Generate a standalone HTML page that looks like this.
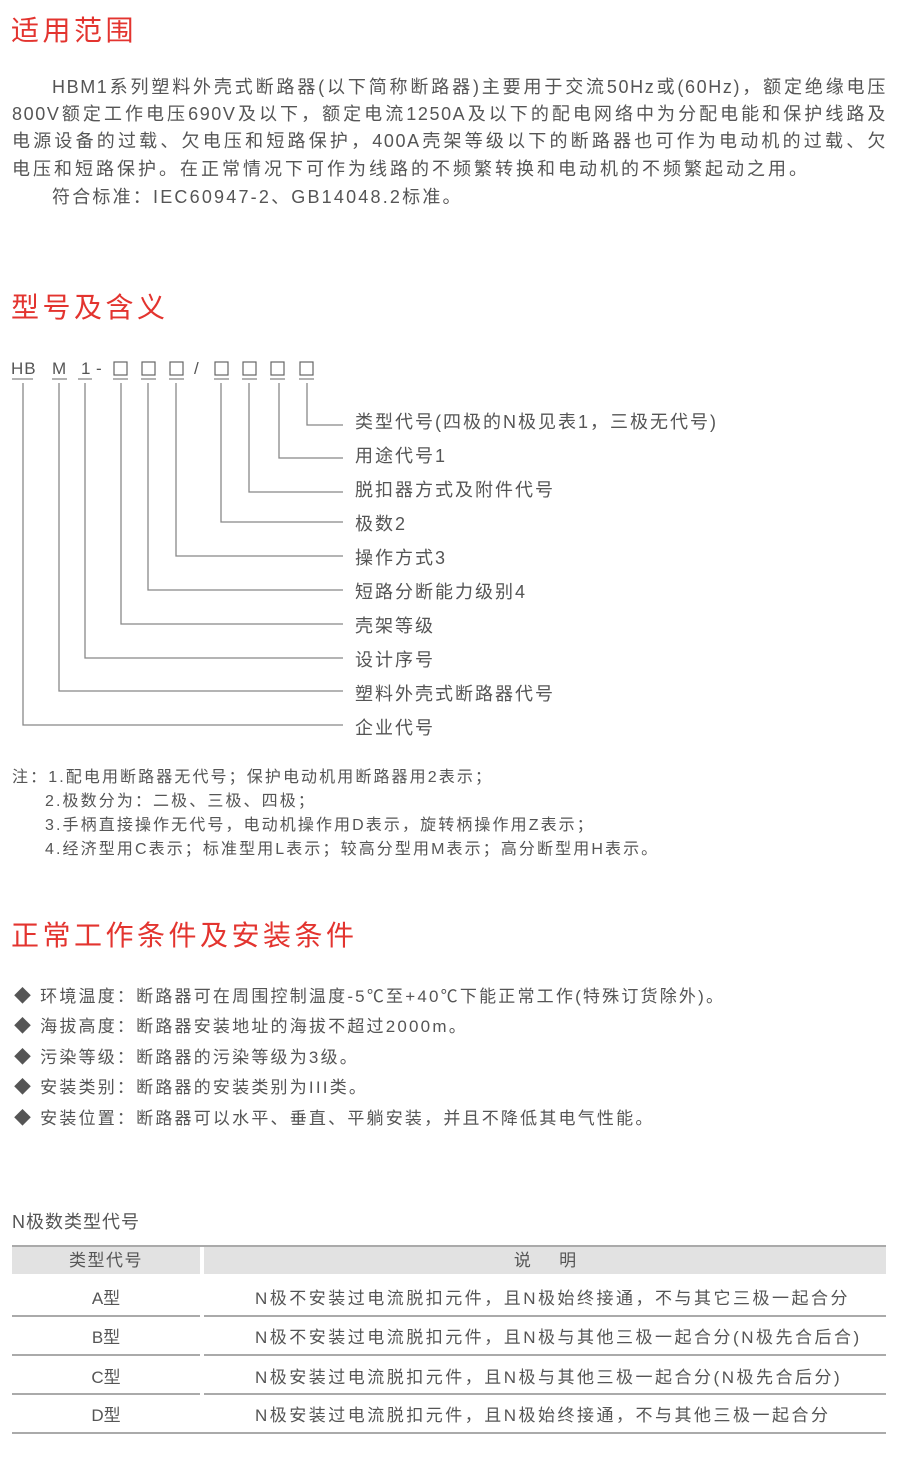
<!DOCTYPE html>
<html><head><meta charset="utf-8"><style>
body{margin:0;width:897px;height:1457px;background:#fff;position:relative;font-family:"Liberation Sans","Noto Sans CJK SC",sans-serif;color:#555;overflow:hidden}
.a{position:absolute;white-space:nowrap}
h2{position:absolute;margin:0;color:#e3342f;font-weight:normal;font-size:28px;left:11px;line-height:1;letter-spacing:3.5px;font-family:"Noto Sans CJK SC",sans-serif}
.p{position:absolute;left:12px;width:875px;font-size:18px;line-height:27px;text-align:justify;text-align-last:justify;letter-spacing:2.6px;white-space:nowrap}
.l{position:absolute;background:#888}
.lab{position:absolute;left:355px;font-size:18px;line-height:20px;white-space:nowrap;letter-spacing:2px}
.n{position:absolute;font-size:16px;line-height:20px;white-space:nowrap;letter-spacing:2.1px}
.b{position:absolute;left:14px;font-size:17px;line-height:20px;white-space:nowrap;letter-spacing:2.2px}
.c{position:absolute;font-size:17px;line-height:20px;white-space:nowrap;text-align:center}
.t{position:absolute;font-size:17px;line-height:20px;white-space:nowrap;letter-spacing:2.5px}
</style></head><body>
<h2 style="top:15px">适用范围</h2>
<div class="p" style="top:74px;left:52px;width:835px;letter-spacing:1.6px">HBM1系列塑料外壳式断路器(以下简称断路器)主要用于交流50Hz或(60Hz)，额定绝缘电压</div>
<div class="p" style="top:101px;letter-spacing:1.6px">800V额定工作电压690V及以下，额定电流1250A及以下的配电网络中为分配电能和保护线路及</div>
<div class="p" style="top:128px;letter-spacing:1.6px">电源设备的过载、欠电压和短路保护，400A壳架等级以下的断路器也可作为电动机的过载、欠</div>
<div class="p" style="top:156px;text-align-last:left;letter-spacing:3px">电压和短路保护。在正常情况下可作为线路的不频繁转换和电动机的不频繁起动之用。</div>
<div class="p" style="top:184px;text-align-last:left;left:52px;letter-spacing:2.2px">符合标准：IEC60947-2、GB14048.2标准。</div>

<h2 style="top:292px">型号及含义</h2>
<div class="a" style="left:11px;top:359px;font-size:17px;line-height:20px;letter-spacing:1px">HB</div>
<div class="a" style="left:52px;top:359px;font-size:17px;line-height:20px">M</div>
<div class="a" style="left:81px;top:359px;font-size:17px;line-height:20px">1</div>
<div class="a" style="left:96px;top:359px;font-size:17px;line-height:20px">-</div>
<div class="a" style="left:194px;top:359px;font-size:17px;line-height:20px">/</div>
<svg class="a" style="left:0;top:0" width="897" height="760">
<g fill="none" stroke="#666" stroke-width="1.2">
<rect x="114" y="362" width="13" height="13"/><rect x="142" y="362" width="13" height="13"/><rect x="170" y="362" width="13" height="13"/>
<rect x="215" y="362" width="13" height="13"/><rect x="243" y="362" width="13" height="13"/><rect x="271" y="362" width="13" height="13"/><rect x="300" y="362" width="13" height="13"/>
</g>
<g stroke="#888" stroke-width="1.3" fill="none">
<line x1="12" y1="379" x2="33" y2="379"/><line x1="52" y1="379" x2="67" y2="379"/><line x1="78" y1="379" x2="92" y2="379"/>
<line x1="113" y1="379" x2="128" y2="379"/><line x1="141" y1="379" x2="156" y2="379"/><line x1="169" y1="379" x2="184" y2="379"/>
<line x1="214" y1="379" x2="229" y2="379"/><line x1="242" y1="379" x2="257" y2="379"/><line x1="270" y1="379" x2="285" y2="379"/><line x1="299" y1="379" x2="314" y2="379"/>
<polyline points="307,383 307,425 343,425"/>
<polyline points="279,383 279,458 343,458"/>
<polyline points="249,383 249,492 343,492"/>
<polyline points="221,383 221,522 343,522"/>
<polyline points="176,383 176,556 343,556"/>
<polyline points="148,383 148,590 343,590"/>
<polyline points="121,383 121,624 343,624"/>
<polyline points="85,383 85,658 343,658"/>
<polyline points="59,383 59,691 343,691"/>
<polyline points="23,383 23,725 343,725"/>
</g></svg>
<div class="lab" style="top:412px">类型代号(四极的N极见表1，三极无代号)</div>
<div class="lab" style="top:446px">用途代号1</div>
<div class="lab" style="top:480px">脱扣器方式及附件代号</div>
<div class="lab" style="top:514px">极数2</div>
<div class="lab" style="top:548px">操作方式3</div>
<div class="lab" style="top:582px">短路分断能力级别4</div>
<div class="lab" style="top:616px">壳架等级</div>
<div class="lab" style="top:650px">设计序号</div>
<div class="lab" style="top:684px">塑料外壳式断路器代号</div>
<div class="lab" style="top:718px">企业代号</div>

<div class="n" style="left:12px;top:768px">注：1.配电用断路器无代号；保护电动机用断路器用2表示；</div>
<div class="n" style="left:45px;top:792px">2.极数分为：二极、三极、四极；</div>
<div class="n" style="left:45px;top:816px">3.手柄直接操作无代号，电动机操作用D表示，旋转柄操作用Z表示；</div>
<div class="n" style="left:45px;top:840px">4.经济型用C表示；标准型用L表示；较高分型用M表示；高分断型用H表示。</div>

<h2 style="top:920px">正常工作条件及安装条件</h2>
<div class="b" style="top:987px">◆ 环境温度：断路器可在周围控制温度-5℃至+40℃下能正常工作(特殊订货除外)。</div>
<div class="b" style="top:1017px">◆ 海拔高度：断路器安装地址的海拔不超过2000m。</div>
<div class="b" style="top:1048px">◆ 污染等级：断路器的污染等级为3级。</div>
<div class="b" style="top:1078px">◆ 安装类别：断路器的安装类别为III类。</div>
<div class="b" style="top:1109px">◆ 安装位置：断路器可以水平、垂直、平躺安装，并且不降低其电气性能。</div>

<div class="a" style="left:12px;top:1211px;font-size:18px;line-height:22px;letter-spacing:1px">N极数类型代号</div>
<div class="a" style="left:12px;top:1245px;width:874px;height:2px;background:#aaa"></div>
<div class="a" style="left:12px;top:1247px;width:188px;height:27px;background:#e2e2e2"></div>
<div class="a" style="left:204px;top:1247px;width:682px;height:27px;background:#e2e2e2"></div>
<div class="c" style="left:12px;width:188px;top:1251px;letter-spacing:1.5px">类型代号</div>
<div class="c" style="left:204px;width:682px;top:1251px">说&nbsp;&nbsp;&nbsp;&nbsp;&nbsp;&nbsp;明</div>
<div class="a" style="left:12px;top:1315px;width:188px;height:2px;background:#aaa"></div><div class="a" style="left:204px;top:1315px;width:682px;height:2px;background:#aaa"></div>
<div class="a" style="left:12px;top:1354px;width:188px;height:2px;background:#aaa"></div><div class="a" style="left:204px;top:1354px;width:682px;height:2px;background:#aaa"></div>
<div class="a" style="left:12px;top:1393px;width:188px;height:2px;background:#aaa"></div><div class="a" style="left:204px;top:1393px;width:682px;height:2px;background:#aaa"></div>
<div class="a" style="left:12px;top:1432px;width:874px;height:2px;background:#aaa"></div>
<div class="c" style="left:12px;width:188px;top:1289px">A型</div>
<div class="c" style="left:12px;width:188px;top:1328px">B型</div>
<div class="c" style="left:12px;width:188px;top:1368px">C型</div>
<div class="c" style="left:12px;width:188px;top:1406px">D型</div>
<div class="t" style="left:255px;top:1289px">N极不安装过电流脱扣元件，且N极始终接通，不与其它三极一起合分</div>
<div class="t" style="left:255px;top:1328px">N极不安装过电流脱扣元件，且N极与其他三极一起合分(N极先合后合)</div>
<div class="t" style="left:255px;top:1368px">N极安装过电流脱扣元件，且N极与其他三极一起合分(N极先合后分)</div>
<div class="t" style="left:255px;top:1406px">N极安装过电流脱扣元件，且N极始终接通，不与其他三极一起合分</div>
</body></html>
